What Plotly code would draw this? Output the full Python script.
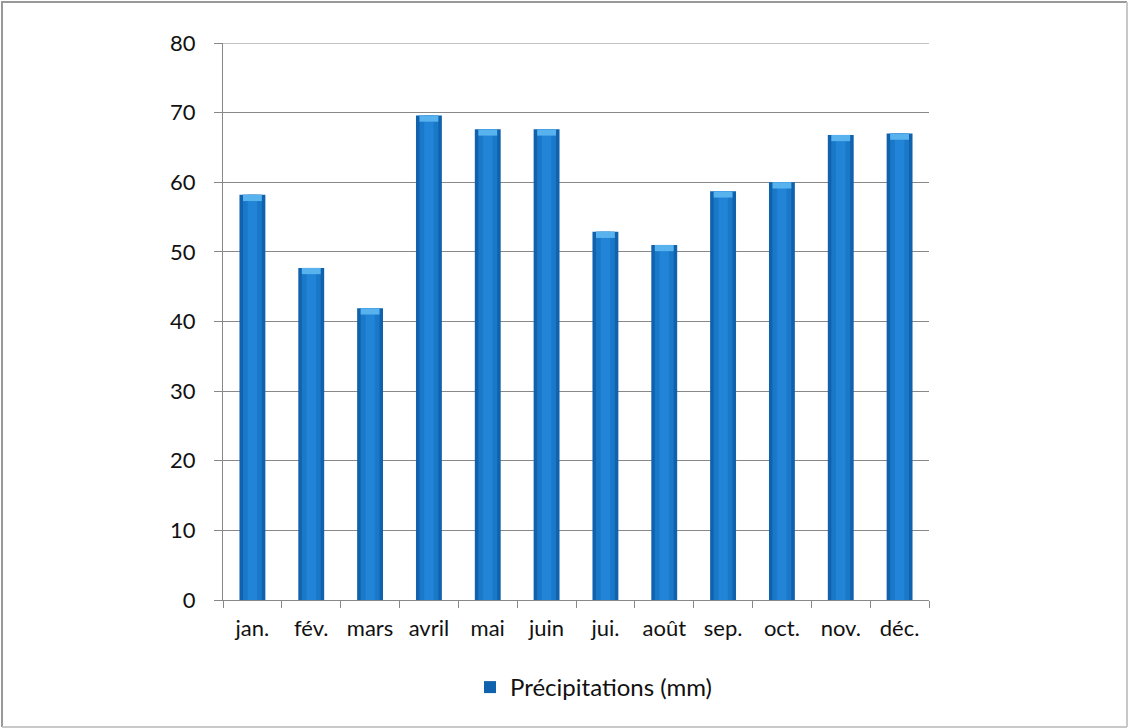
import plotly.graph_objects as go

# Monthly precipitation (mm)
months = ["jan.", "fév.", "mars", "avril", "mai", "juin",
          "jui.", "août", "sep.", "oct.", "nov.", "déc."]
precip = [58.2, 47.7, 41.9, 69.6, 67.6, 67.6, 52.9, 51.0, 58.7, 60.0, 66.8, 67.0]
series_name = "Précipitations (mm)"
y_ticks = [0, 10, 20, 30, 40, 50, 60, 70, 80]

W, H = 1128, 728
L, R, T, B = 223, 199, 43, 128
pw, ph = W - L - R, H - T - B


def px_x(px):
    return (px - L) / pw


def px_y(py):
    return (H - B - py) / ph


FONT = "Lato, 'Open Sans', sans-serif"
GRID = "#888888"

fig = go.Figure()

# Outer bar body (darker edges)
fig.add_trace(go.Bar(
    x=months, y=precip, name=series_name, width=0.44,
    marker=dict(color="#1062ad", line=dict(width=0)),
    showlegend=True,
))
# Lighter middle bands giving a rounded look
fig.add_trace(go.Bar(
    x=months, y=precip, width=0.32, hoverinfo="skip",
    marker=dict(color="#1a78c9", line=dict(width=0)), showlegend=False,
))
fig.add_trace(go.Bar(
    x=months, y=precip, width=0.16, hoverinfo="skip",
    marker=dict(color="#2184d6", line=dict(width=0)), showlegend=False,
))
# Highlight cap at the top of each bar
cap = 0.9
fig.add_trace(go.Bar(
    x=months, y=[cap] * len(precip), base=[v - cap for v in precip], width=0.32,
    hoverinfo="skip", marker=dict(color="#58b2ee", line=dict(width=0)), showlegend=False,
))

frame_dark = "#999999"
frame_light = "#c8c8c8"

shapes = [
    # top gridline at the upper end of the value axis
    dict(type="line", xref="paper", yref="y", x0=0, x1=1,
         y0=y_ticks[-1], y1=y_ticks[-1], line=dict(color=GRID, width=1), layer="below"),
    # frame around the chart
    dict(type="line", xref="paper", yref="paper",
         x0=px_x(1), x1=px_x(1127), y0=px_y(2), y1=px_y(2),
         line=dict(color=frame_dark, width=2)),
    dict(type="line", xref="paper", yref="paper",
         x0=px_x(2), x1=px_x(2), y0=px_y(1), y1=px_y(727),
         line=dict(color=frame_dark, width=2)),
    dict(type="line", xref="paper", yref="paper",
         x0=px_x(1127), x1=px_x(1127), y0=px_y(2), y1=px_y(727),
         line=dict(color=frame_light, width=2)),
    dict(type="line", xref="paper", yref="paper",
         x0=px_x(2), x1=px_x(1127), y0=px_y(727), y1=px_y(727),
         line=dict(color=frame_light, width=2)),
]

fig.update_layout(
    width=W, height=H,
    margin=dict(l=L, r=R, t=T, b=B),
    paper_bgcolor="white", plot_bgcolor="white",
    barmode="overlay",
    font=dict(family=FONT, size=22, color="#111111"),
    legend=dict(orientation="h", x=px_x(470), xanchor="left", y=px_y(665), yanchor="top",
                font=dict(size=24), itemsizing="constant"),
    xaxis=dict(
        type="category", tickson="boundaries", ticks="outside", ticklen=7,
        tickcolor=GRID, showline=True, linecolor=GRID, linewidth=1,
        showgrid=False, tickfont=dict(size=22), ticklabelstandoff=9, tickangle=0,
    ),
    yaxis=dict(
        range=[0, 80], tickvals=y_ticks, ticks="outside", ticklen=8,
        tickcolor=GRID, showline=True, linecolor=GRID, linewidth=1,
        showgrid=True, gridcolor=GRID, gridwidth=1, zeroline=False,
        tickfont=dict(size=22), ticklabelstandoff=14,
    ),
    shapes=shapes,
)

fig.write_html("out.html")
